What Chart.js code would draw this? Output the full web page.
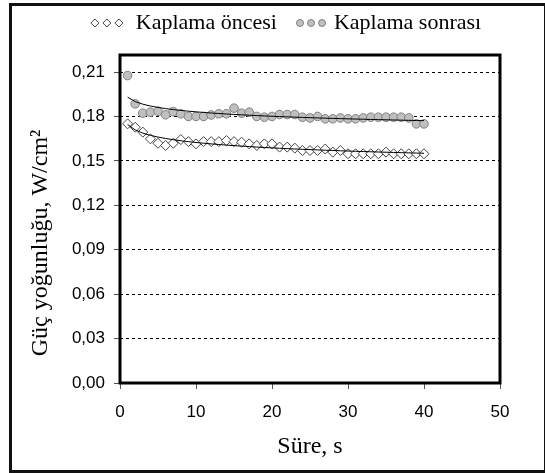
<!DOCTYPE html>
<html>
<head>
<meta charset="utf-8">
<script src="https://cdn.jsdelivr.net/npm/chart.js@4/dist/chart.umd.min.js"></script>
<style>
  html, body { margin: 0; padding: 0; background: #ffffff; }
  canvas { display: block; }
</style>
</head>
<body>
<canvas id="c" width="545" height="473"></canvas>
<script>
// ---- data ----
const xValues = [1,2,3,4,5,6,7,8,9,10,11,12,13,14,15,16,17,18,19,20,21,22,23,24,25,26,27,28,29,30,31,32,33,34,35,36,37,38,39,40];
const beforeValues = [0.175,0.1727,0.1694,0.1649,0.1619,0.1604,0.1619,0.1644,0.163,0.1615,0.163,0.163,0.163,0.1637,0.163,0.1626,0.1615,0.1604,0.1615,0.1615,0.1593,0.1593,0.1586,0.157,0.157,0.157,0.158,0.1559,0.157,0.1548,0.1548,0.1548,0.1548,0.1548,0.1559,0.1548,0.1548,0.1548,0.1548,0.1548];
const afterValues = [0.2076,0.1885,0.1822,0.1829,0.1835,0.1811,0.1833,0.1818,0.18,0.18,0.18,0.181,0.1818,0.1818,0.1856,0.1822,0.1829,0.18,0.1795,0.18,0.1813,0.1813,0.1813,0.1795,0.179,0.18,0.1784,0.1784,0.179,0.1784,0.1784,0.179,0.1795,0.1795,0.1795,0.1795,0.1795,0.179,0.175,0.175];
const seriesLabels = ['Kaplama öncesi', 'Kaplama sonrası'];
const yTickValues = [0, 0.03, 0.06, 0.09, 0.12, 0.15, 0.18, 0.21];
const xTickValues = [0, 10, 20, 30, 40, 50];
const xTitle = 'Süre, s';
const yTitle = 'Güç yoğunluğu, W/cm²\u2002\u2002\u2002\u2002';

// logarithmic trend line (least squares fit of y = a + b ln x), evaluated at the data x values
function logTrend(xs, ys) {
  const n = xs.length;
  let sl = 0, sy = 0, sll = 0, sly = 0;
  for (let i = 0; i < n; i++) {
    const l = Math.log(xs[i]);
    sl += l; sy += ys[i]; sll += l * l; sly += l * ys[i];
  }
  const b = (n * sly - sl * sy) / (n * sll - sl * sl);
  const a = (sy - b * sl) / n;
  return xs.map(x => ({ x: x, y: a + b * Math.log(x) }));
}

const toPoints = (xs, ys) => xs.map((x, i) => ({ x: x, y: ys[i] }));

// legend marker images
function markerStrip(kind) {
  const c = document.createElement('canvas');
  c.width = kind === 'diamond' ? 36 : 48;
  c.height = 12;
  const g = c.getContext('2d');
  const centers = kind === 'diamond' ? [6, 18, 30] : [19, 30, 41];
  centers.forEach(cx => {
    g.beginPath();
    if (kind === 'diamond') {
      g.moveTo(cx - 4, 6); g.lineTo(cx, 2); g.lineTo(cx + 4, 6); g.lineTo(cx, 10); g.closePath();
      g.fillStyle = '#ffffff'; g.fill();
      g.strokeStyle = '#444444'; g.lineWidth = 1; g.stroke();
    } else {
      g.arc(cx, 6, 3.5, 0, Math.PI * 2);
      g.fillStyle = '#c0c0c0'; g.fill();
      g.strokeStyle = '#808080'; g.lineWidth = 1; g.stroke();
    }
  });
  return c;
}
const legendImgs = [markerStrip('diamond'), markerStrip('circle')];

const framePlugin = {
  id: 'frames',
  beforeDatasetsDraw(chart) {
    const { ctx, chartArea: a } = chart;
    ctx.save();
    ctx.strokeStyle = '#000000';
    ctx.lineWidth = 3;
    ctx.strokeRect(a.left, a.top, a.right - a.left, a.bottom - a.top);
    ctx.restore();
  },
  afterDraw(chart) {
    const ctx = chart.ctx;
    ctx.save();
    ctx.strokeStyle = '#111111';
    ctx.lineWidth = 3;
    ctx.strokeRect(10.5, 4.5, 535, 467);
    ctx.restore();
  }
};

new Chart(document.getElementById('c'), {
  type: 'scatter',
  data: {
    datasets: [
      {
        label: seriesLabels[0] + ' trend',
        data: logTrend(xValues, beforeValues),
        showLine: true, pointRadius: 0, borderColor: '#000000', borderWidth: 1, tension: 0, order: 0
      },
      {
        label: seriesLabels[1] + ' trend',
        data: logTrend(xValues, afterValues),
        showLine: true, pointRadius: 0, borderColor: '#000000', borderWidth: 1, tension: 0, order: 0
      },
      {
        label: seriesLabels[0],
        data: toPoints(xValues, beforeValues),
        pointStyle: 'rectRot', pointRadius: 5, pointHoverRadius: 5,
        backgroundColor: '#ffffff', borderColor: '#444444', borderWidth: 1, order: 1
      },
      {
        label: seriesLabels[1],
        data: toPoints(xValues, afterValues),
        pointStyle: 'circle', pointRadius: 4.3, pointHoverRadius: 4.3,
        backgroundColor: '#c0c0c0', borderColor: '#808080', borderWidth: 1, order: 1
      }
    ]
  },
  options: {
    responsive: false,
    animation: false,
    devicePixelRatio: 1,
    layout: { padding: { left: 25, top: 2, right: 0, bottom: 0 } },
    plugins: {
      tooltip: { enabled: false },
      legend: {
        position: 'top',
        align: 'center',
        labels: {
          usePointStyle: true,
          pointStyleWidth: 36,
          padding: 10,
          color: '#000000',
          font: { family: '"Liberation Serif", "Times New Roman", serif', size: 22 },
          generateLabels() {
            return seriesLabels.map((t, i) => ({
              text: t,
              pointStyle: legendImgs[i],
              fillStyle: 'transparent',
              strokeStyle: 'transparent',
              lineWidth: 0,
              hidden: false,
              datasetIndex: i + 2,
              fontColor: '#000000'
            }));
          }
        }
      }
    },
    scales: {
      x: {
        type: 'linear',
        position: 'bottom',
        min: 0, max: 50,
        afterBuildTicks(s) { s.ticks = xTickValues.map(v => ({ value: v })); },
        afterFit(s) { s.height = 90; },
        grid: { drawOnChartArea: false, drawTicks: true, tickLength: 6, color: '#555555', lineWidth: 1 },
        border: { display: false },
        ticks: {
          padding: 13,
          color: '#000000',
          font: { family: '"Liberation Sans", Arial, sans-serif', size: 17 },
          callback: v => String(v)
        },
        title: {
          display: true, text: xTitle, color: '#000000',
          font: { family: '"Liberation Serif", "Times New Roman", serif', size: 24 },
          padding: { top: 0, bottom: 12 }
        }
      },
      y: {
        type: 'linear',
        position: 'left',
        min: 0, max: 0.2215,
        afterBuildTicks(s) { s.ticks = yTickValues.map(v => ({ value: v })); },
        afterFit(s) { s.width = 95; },
        grid: {
          drawOnChartArea: true, drawTicks: true, tickLength: 6,
          color: ctx => (ctx.tick && ctx.tick.value === 0) ? 'rgba(0,0,0,0)' : '#000000',
          tickColor: '#555555', lineWidth: 1, tickBorderDash: []
        },
        border: { display: false, dash: [3, 3] },
        ticks: {
          padding: 9,
          color: '#000000',
          font: { family: '"Liberation Sans", Arial, sans-serif', size: 17 },
          callback: v => Number(v).toFixed(2).replace('.', ',')
        },
        title: {
          display: true, text: yTitle, color: '#000000',
          font: { family: '"Liberation Serif", "Times New Roman", serif', size: 24 },
          padding: { top: 1, bottom: 4 }
        }
      },
      xTop: {
        type: 'linear', position: 'top', display: true,
        grid: { display: false }, border: { display: false }, ticks: { display: false },
        afterFit(s) { s.height = 11; }
      },
      yRight: {
        type: 'linear', position: 'right', display: true,
        grid: { display: false }, border: { display: false }, ticks: { display: false },
        afterFit(s) { s.width = 45; }
      }
    }
  },
  plugins: [framePlugin]
});
</script>
</body>
</html>
